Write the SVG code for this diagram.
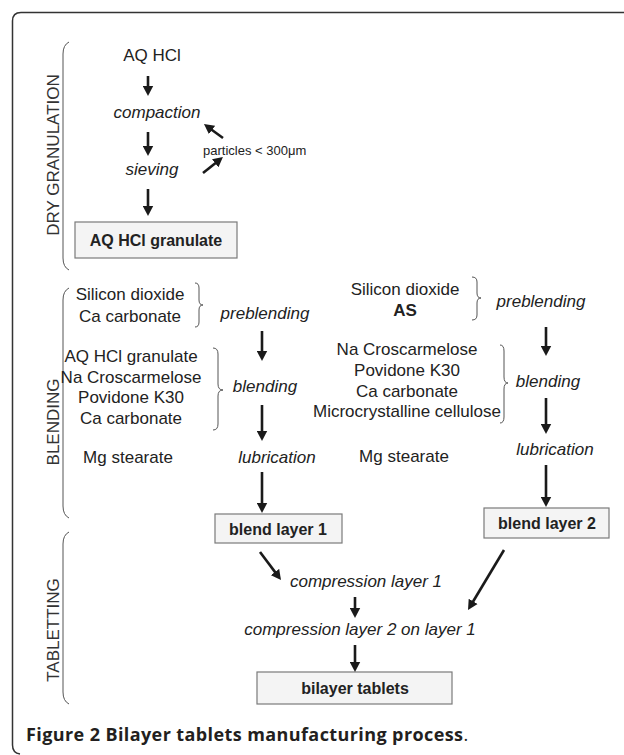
<svg xmlns="http://www.w3.org/2000/svg" width="624" height="755" viewBox="0 0 624 755">
<style>
.t{font-family:"Liberation Sans",Arial,sans-serif;font-size:17px;fill:#222;text-anchor:middle}
.i{font-style:italic}
.b{font-weight:bold}
.lb{font-weight:bold;font-size:16px}
.sm{font-size:13px;text-anchor:start}
.sec{fill:#333}
.box{fill:#f4f4f4;stroke:#7a7a7a;stroke-width:1.2}
.br{fill:none;stroke:#555;stroke-width:1}
.arr{stroke:#1a1a1a;stroke-width:2.6;fill:none;marker-end:url(#ah)}
.frame{fill:none;stroke:#333;stroke-width:1.5}
.cap{font-family:"Open Sans","Noto Sans",sans-serif;font-size:18px;fill:#231f20}
</style>
<defs>
<marker id="ah" markerUnits="userSpaceOnUse" markerWidth="10" markerHeight="11" viewBox="0 0 10 11" refX="3" refY="5.5" orient="auto">
<path d="M0,0.3 L10,5.5 L0,10.7 z" fill="#1a1a1a"/>
</marker>
</defs>
<rect width="624" height="755" fill="#fff"/>
<path class="frame" d="M624,12.5 H21 Q12.5,12.5 12.5,21 V745 Q12.5,753 20,754"/>

<g id="sections">
<g id="dry-granulation">
<path class="br" d="M69,42 Q63,45 63,54 V258 Q63,267 69,270"/>
<text class="t sec" transform="translate(59,155) rotate(-90)">DRY GRANULATION</text>
</g>
<g id="blending">
<path class="br" d="M69,288 Q63,291 63,300 V506 Q63,515 69,518"/>
<text class="t sec" transform="translate(59,422) rotate(-90)">BLENDING</text>
</g>
<g id="tabletting">
<path class="br" d="M69,532 Q63,535 63,544 V692 Q63,701 69,704"/>
<text class="t sec" transform="translate(59,630) rotate(-90)">TABLETTING</text>
</g>
</g>

<g id="n-aqhcl"><text class="t" x="152" y="61">AQ HCl</text></g>
<g id="n-compaction"><text class="t i" x="157" y="118">compaction</text></g>
<g id="n-sieving"><text class="t i" x="152" y="175">sieving</text></g>
<g id="n-particles"><text class="t sm" x="203" y="155">particles &lt; 300μm</text></g>
<g id="n-granulate">
<rect class="box" x="75" y="222" width="162" height="36"/>
<text class="t lb" x="156" y="246">AQ HCl granulate</text>
</g>

<g id="n-prebl1-in">
<text class="t" x="130" y="300">Silicon dioxide</text>
<text class="t" x="130" y="322">Ca carbonate</text>
<path class="br" d="M195,283 Q199,283 199,288 V300 Q199,305 203,305 Q199,305 199,310 V322 Q199,327 195,327"/>
</g>
<g id="n-prebl1"><text class="t i" x="265" y="319">preblending</text></g>
<g id="n-bl1-in">
<text class="t" x="131" y="362">AQ HCl granulate</text>
<text class="t" x="131" y="383">Na Croscarmelose</text>
<text class="t" x="131" y="403">Povidone K30</text>
<text class="t" x="131" y="424">Ca carbonate</text>
<path class="br" d="M213,348 Q218,348 218,354 V384 Q218,390 223,390 Q218,390 218,396 V424 Q218,430 213,430"/>
</g>
<g id="n-bl1"><text class="t i" x="265" y="392">blending</text></g>
<g id="n-mg1"><text class="t" x="128" y="463">Mg stearate</text></g>
<g id="n-lub1"><text class="t i" x="277" y="463">lubrication</text></g>
<g id="n-blend1">
<rect class="box" x="215" y="514" width="127" height="29"/>
<text class="t lb" x="278" y="535">blend layer 1</text>
</g>

<g id="n-prebl2-in">
<text class="t" x="405" y="295">Silicon dioxide</text>
<text class="t b" x="405" y="316">AS</text>
<path class="br" d="M472,277 Q477,277 477,282 V293 Q477,298 481,298 Q477,298 477,303 V315 Q477,320 472,320"/>
</g>
<g id="n-prebl2"><text class="t i" x="541" y="307">preblending</text></g>
<g id="n-bl2-in">
<text class="t" x="407" y="355">Na Croscarmelose</text>
<text class="t" x="407" y="376">Povidone K30</text>
<text class="t" x="407" y="397">Ca carbonate</text>
<text class="t" x="407" y="417">Microcrystalline cellulose</text>
<path class="br" d="M500,345 Q504,345 504,351 V377 Q504,383 508,383 Q504,383 504,389 V417 Q504,423 500,423"/>
</g>
<g id="n-bl2"><text class="t i" x="548" y="387">blending</text></g>
<g id="n-mg2"><text class="t" x="404" y="462">Mg stearate</text></g>
<g id="n-lub2"><text class="t i" x="555" y="455">lubrication</text></g>
<g id="n-blend2">
<rect class="box" x="484" y="508" width="125" height="30"/>
<text class="t lb" x="547" y="529">blend layer 2</text>
</g>

<g id="n-comp1"><text class="t i" x="366" y="587">compression layer 1</text></g>
<g id="n-comp2"><text class="t i" x="360" y="635">compression layer 2 on layer 1</text></g>
<g id="n-bilayer">
<rect class="box" x="257" y="672" width="195" height="32"/>
<text class="t lb" x="355" y="694">bilayer tablets</text>
</g>

<g id="connectors">
<line class="arr" x1="148" y1="76" x2="148" y2="89"/>
<line class="arr" x1="148" y1="132" x2="148" y2="149"/>
<line class="arr" x1="148" y1="189" x2="148" y2="209"/>
<line class="arr" x1="223" y1="138" x2="209.6" y2="128.2"/>
<line class="arr" x1="203" y1="173" x2="217.5" y2="161.4"/>
<line class="arr" x1="262" y1="331" x2="262" y2="354"/>
<line class="arr" x1="262" y1="405" x2="262" y2="434"/>
<line class="arr" x1="262" y1="472" x2="262" y2="506"/>
<line class="arr" x1="546" y1="327" x2="546" y2="349"/>
<line class="arr" x1="546" y1="398" x2="546" y2="427"/>
<line class="arr" x1="546" y1="465" x2="546" y2="500"/>
<line class="arr" x1="260" y1="552" x2="276.8" y2="574.4"/>
<line class="arr" x1="504" y1="550" x2="471.6" y2="604"/>
<line class="arr" x1="355" y1="597" x2="355" y2="611"/>
<line class="arr" x1="355" y1="645" x2="355" y2="665"/>
</g>

<g id="caption">
<text class="cap" x="26" y="741"><tspan font-weight="bold" textLength="437" lengthAdjust="spacing">Figure 2 Bilayer tablets manufacturing process</tspan>.</text>
</g>
</svg>
